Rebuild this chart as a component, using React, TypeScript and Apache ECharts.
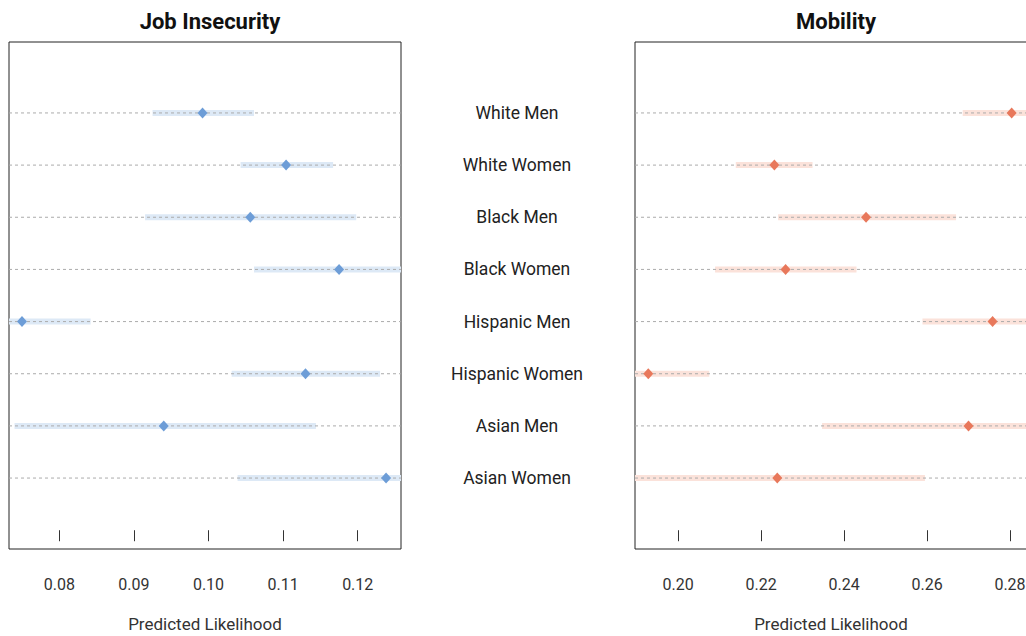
import React, { useEffect, useRef } from "react";
import * as echarts from "echarts";

const categories = [
  "White Men",
  "White Women",
  "Black Men",
  "Black Women",
  "Hispanic Men",
  "Hispanic Women",
  "Asian Men",
  "Asian Women",
];
const jobEst = [0.0992, 0.1104, 0.1056, 0.1175, 0.075, 0.113, 0.094, 0.1238];
const jobLow = [0.0925, 0.1043, 0.0915, 0.1061, 0.0658, 0.1031, 0.074, 0.1039];
const jobHigh = [0.1061, 0.1167, 0.1198, 0.1289, 0.0842, 0.123, 0.1144, 0.1437];
const mobEst = [0.2804, 0.2232, 0.2453, 0.2259, 0.2758, 0.1928, 0.27, 0.2239];
const mobLow = [0.2686, 0.2139, 0.2241, 0.2089, 0.2589, 0.1781, 0.2347, 0.1883];
const mobHigh = [0.2922, 0.2324, 0.267, 0.243, 0.2927, 0.2075, 0.3053, 0.2595];
const jobTicks = [0.08, 0.09, 0.1, 0.11, 0.12];
const mobTicks = [0.2, 0.22, 0.24, 0.26, 0.28];
const rowPos = [8, 7, 6, 5, 4, 3, 2, 1];

const FONT = "Roboto, 'Noto Sans', sans-serif";

function bandSeries(idx: number, low: number[], high: number[], bandColor: string) {
  return {
    type: "custom",
    xAxisIndex: idx,
    yAxisIndex: idx,
    clip: true,
    silent: true,
    data: low.map((l, i) => [l, high[i], rowPos[i]]),
    encode: { x: [0, 1], y: 2 },
    renderItem: (params: any, api: any) => {
      const y = api.value(2);
      const p1 = api.coord([api.value(0), y]);
      const p2 = api.coord([api.value(1), y]);
      const cs = params.coordSys;
      return {
        type: "group",
        children: [
          {
            type: "line",
            shape: { x1: p1[0], y1: p1[1], x2: p2[0], y2: p2[1] },
            style: { stroke: bandColor, lineWidth: 6, lineCap: "butt" },
          },
          {
            type: "line",
            shape: { x1: cs.x, y1: p1[1], x2: cs.x + cs.width, y2: p1[1] },
            style: { stroke: "#ababab", lineWidth: 1, lineDash: [3, 3] },
          },
        ],
      };
    },
  };
}

function pointSeries(idx: number, est: number[], color: string) {
  return {
    type: "scatter",
    xAxisIndex: idx,
    yAxisIndex: idx,
    symbol: "diamond",
    symbolSize: [10, 11],
    itemStyle: { color, opacity: 1 },
    clip: false,
    silent: true,
    data: est.map((v, i) => [v, rowPos[i]]),
  };
}

function xAxis(idx: number, min: number, max: number, ticks: number[]) {
  return {
    type: "value",
    gridIndex: idx,
    min,
    max,
    splitLine: { show: false },
    axisLine: { show: false },
    axisTick: {
      show: true,
      length: 11,
      customValues: ticks,
      lineStyle: { color: "#333", width: 1 },
    },
    axisLabel: {
      customValues: ticks,
      formatter: (v: number) => v.toFixed(2),
      fontFamily: FONT,
      fontSize: 16,
      color: "#333",
      margin: 27,
    },
    name: "Predicted Likelihood",
    nameLocation: "middle",
    nameGap: 66,
    nameTextStyle: { fontFamily: FONT, fontSize: 17, color: "#333" },
  };
}

export default function App() {
  const ref = useRef<HTMLDivElement>(null);
  useEffect(() => {
    document.body.style.margin = "0";
    const chart = echarts.init(ref.current!, null, { renderer: "svg" });
    const gridBase = {
      top: 42,
      width: 392,
      height: 507,
      show: true,
      borderColor: "#222",
      borderWidth: 1,
      backgroundColor: "transparent",
      containLabel: false,
      outerBoundsMode: "none",
    };
    chart.setOption({
      animation: false,
      backgroundColor: "#ffffff",
      title: [
        {
          text: "Job Insecurity",
          left: 205,
          top: 5,
          textAlign: "center",
          textStyle: { fontFamily: FONT, fontSize: 22, fontWeight: "bold", color: "#111" },
        },
        {
          text: "Mobility",
          left: 831,
          top: 5,
          textAlign: "center",
          textStyle: { fontFamily: FONT, fontSize: 22, fontWeight: "bold", color: "#111" },
        },
      ],
      grid: [
        { ...gridBase, left: 9 },
        { ...gridBase, left: 635 },
      ],
      xAxis: [
        xAxis(0, 0.07326, 0.1258, jobTicks),
        xAxis(1, 0.1896, 0.2841, mobTicks),
      ],
      yAxis: [
        {
          type: "value",
          gridIndex: 0,
          min: -0.36,
          max: 9.36,
          position: "right",
          splitLine: { show: false },
          axisLine: { show: false },
          axisTick: { show: false },
          axisLabel: {
            customValues: rowPos,
            formatter: (v: number) => categories[8 - Math.round(v)],
            align: "center",
            margin: 116,
            fontFamily: FONT,
            fontSize: 17.5,
            color: "#222",
          },
        },
        {
          type: "value",
          gridIndex: 1,
          min: -0.36,
          max: 9.36,
          show: false,
        },
      ],
      series: [
        bandSeries(0, jobLow, jobHigh, "#dde9f6"),
        pointSeries(0, jobEst, "#6d9dd7"),
        bandSeries(1, mobLow, mobHigh, "#fbe2da"),
        pointSeries(1, mobEst, "#e8785b"),
      ],
    });
    return () => chart.dispose();
  }, []);
  return <div ref={ref} style={{ width: 1026, height: 636 }} />;
}
